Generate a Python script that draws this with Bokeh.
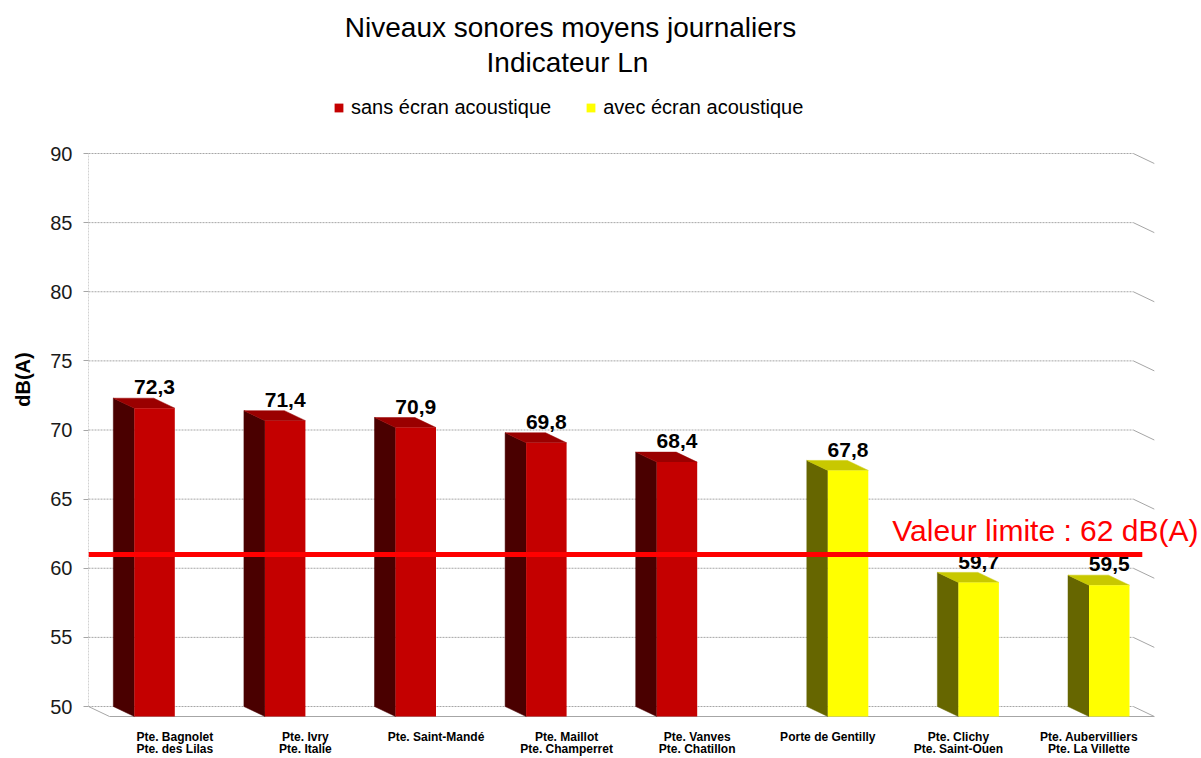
from bokeh.plotting import figure
from bokeh.models import Range1d, FixedTicker, Legend, LegendItem, ColumnDataSource
from bokeh.core.properties import value
from bokeh.embed import file_html
from bokeh.resources import INLINE

# ---------------- data ----------------
title_lines = ["Niveaux sonores moyens journaliers", "Indicateur Ln"]
series_names = ["sans écran acoustique", "avec écran acoustique"]
label_line1 = ["Pte. Bagnolet", "Pte. Ivry", "Pte. Saint-Mandé", "Pte. Maillot",
               "Pte. Vanves", "Porte de Gentilly", "Pte. Clichy", "Pte. Aubervilliers"]
label_line2 = ["Pte. des Lilas", "Pte. Italie", "", "Pte. Champerret",
               "Pte. Chatillon", "", "Pte. Saint-Ouen", "Pte. La Villette"]
sans_ecran = [72.3, 71.4, 70.9, 69.8, 68.4, None, None, None]
avec_ecran = [None, None, None, None, None, 67.8, 59.7, 59.5]
y_ticks = [50, 55, 60, 65, 70, 75, 80, 85, 90]
y_axis_title = "dB(A)"
limit_text = "Valeur limite : 62 dB(A)"
limit_line_value = 61.0

# ---------------- layout helpers ----------------
W, H = 1201, 758
LEFT = 88                 # frame left (px)
PX_X = 130.6              # px per category
PX_Y = 13.825             # px per dB
Y50 = 706                 # px y of value 50
N = len(label_line1)
y_base = y_ticks[0]
BASE_FIX = 0.37           # baseline correction (fraction of font size)

x_start = 0.0
x_end = (W - LEFT) / PX_X
y_start = y_base - (H - Y50) / PX_Y
y_end = y_base + Y50 / PX_Y

def gx(px):
    return (px - LEFT) / PX_X

def gy(py):
    return y_base + (Y50 - py) / PX_Y

DX = 21 / PX_X
DY = 10 / PX_Y
slots = [(0.19, 0.50), (0.50, 0.81)]
front_colors = ["#C40000", "#FFFF00"]
side_colors = ["#4A0000", "#666600"]
top_colors = ["#9A0000", "#C8C800"]
grid_color = "#A6A6A6"

p = figure(width=W, height=H, output_backend="svg", toolbar_location=None,
           x_range=Range1d(x_start, x_end), y_range=Range1d(y_start, y_end),
           x_axis_type=None, min_border_left=LEFT, min_border_right=0,
           min_border_top=0, min_border_bottom=0)
p.outline_line_color = None
p.xgrid.visible = False
p.ygrid.visible = False
p.background_fill_color = "white"
p.border_fill_color = "white"

# y axis
ax = p.yaxis[0]
ax.ticker = FixedTicker(ticks=y_ticks)
ax.axis_line_color = None
ax.major_tick_line_color = grid_color
ax.major_tick_out = 5
ax.major_tick_in = 0
ax.minor_tick_line_color = None
ax.major_label_standoff = 11
ax.major_label_text_font = "Liberation Sans"
ax.major_label_text_font_size = "20px"
ax.major_label_text_color = "#1a1a1a"
ax.axis_label = y_axis_title
ax.axis_label_text_font = "Liberation Sans"
ax.axis_label_text_font_style = "bold"
ax.axis_label_text_font_size = "20px"
ax.axis_label_text_color = "#000000"
ax.axis_label_standoff = 13

# back wall grid lines + right slant
n_t = len(y_ticks)
p.segment(x0=[0] * n_t, y0=y_ticks, x1=[N] * n_t, y1=y_ticks,
          line_color=grid_color, line_width=1, line_dash="2 1")
p.segment(x0=[N] * n_t, y0=y_ticks, x1=[N + DX] * n_t, y1=[t - DY for t in y_ticks],
          line_color=grid_color, line_width=1)
# back wall left edge (axis line)
p.segment(x0=[0], y0=[y_ticks[0]], x1=[0], y1=[y_ticks[-1]],
          line_color=grid_color, line_width=1, line_dash="2 1")
# floor front edge and left diagonal
p.segment(x0=[DX, 0], y0=[y_base - DY, y_base], x1=[N + DX, DX], y1=[y_base - DY, y_base - DY],
          line_color=grid_color, line_width=1)

# bars
legend_renderers = []
for s, vals in enumerate([sans_ecran, avec_ecran]):
    idx = [i for i, v in enumerate(vals) if v is not None]
    vv = [vals[i] for i in idx]
    x0 = [i + slots[s][0] for i in idx]
    x1 = [i + slots[s][1] for i in idx]
    side_xs = [[a, a, a + DX, a + DX] for a in x0]
    side_ys = [[y_base, v, v - DY, y_base - DY] for v in vv]
    top_xs = [[a, b, b + DX, a + DX] for a, b in zip(x0, x1)]
    top_ys = [[v, v, v - DY, v - DY] for v in vv]
    p.patches(xs=side_xs, ys=side_ys, fill_color=side_colors[s], line_color=side_colors[s], line_width=0.5)
    p.patches(xs=top_xs, ys=top_ys, fill_color=top_colors[s], line_color=top_colors[s], line_width=0.5)
    src = ColumnDataSource(dict(left=[a + DX for a in x0], right=[b + DX for b in x1],
                                bottom=[y_base - DY] * len(idx), top=[v - DY for v in vv]))
    r = p.quad(left="left", right="right", bottom="bottom", top="top", source=src,
               fill_color=front_colors[s], line_color=None)
    legend_renderers.append(r)
    # value labels
    lab = ColumnDataSource(dict(x=[(a + b) / 2 + DX for a, b in zip(x0, x1)], y=vv,
                                t=[f"{v:.1f}".replace(".", ",") for v in vv]))
    p.text(x="x", y="y", text="t", source=lab, text_align="center", text_baseline="alphabetic",
           y_offset=-3 - BASE_FIX * 21, text_font=value("Liberation Sans"), text_font_style="bold",
           text_font_size="21px", text_color="#000000")

# category labels
cx = [i + 0.5 + DX for i in range(N)]
p.text(x=cx, y=[gy(741)] * N, text=label_line1, text_align="center", text_baseline="alphabetic",
       y_offset=-BASE_FIX * 12, text_font=value("Liberation Sans"), text_font_style="bold",
       text_font_size="12px", text_color="#000000")
p.text(x=cx, y=[gy(753)] * N, text=label_line2, text_align="center", text_baseline="alphabetic",
       y_offset=-BASE_FIX * 12, text_font=value("Liberation Sans"), text_font_style="bold",
       text_font_size="12px", text_color="#000000")

# limit line and label
p.segment(x0=[0], y0=[limit_line_value], x1=[N + 9 / PX_X], y1=[limit_line_value],
          line_color="#FF0000", line_width=5)
p.text(x=[gx(1198)], y=[gy(541)], text=[limit_text], text_align="right", text_baseline="alphabetic",
       y_offset=-BASE_FIX * 30, text_font=value("Liberation Sans"), text_font_size="30px",
       text_color="#FF0000")

# title
p.text(x=[gx(570), gx(567)], y=[gy(37), gy(72)], text=title_lines, text_align="center",
       text_baseline="alphabetic", y_offset=-BASE_FIX * 28, text_font=value("Liberation Sans"),
       text_font_size="28px", text_color="#000000")

# legend
legend = Legend(items=[LegendItem(label=series_names[0], renderers=[legend_renderers[0]]),
                       LegendItem(label=series_names[1], renderers=[legend_renderers[1]])],
                orientation="horizontal", location=(245, 639), glyph_width=11, glyph_height=11,
                label_text_font="Liberation Sans", label_text_font_size="20px",
                label_text_color="#000000", spacing=34, label_standoff=7, padding=0, margin=0,
                border_line_color=None, background_fill_alpha=0)
p.add_layout(legend)

with open("out.html", "w", encoding="utf-8") as f:
    f.write(file_html(p, INLINE))
